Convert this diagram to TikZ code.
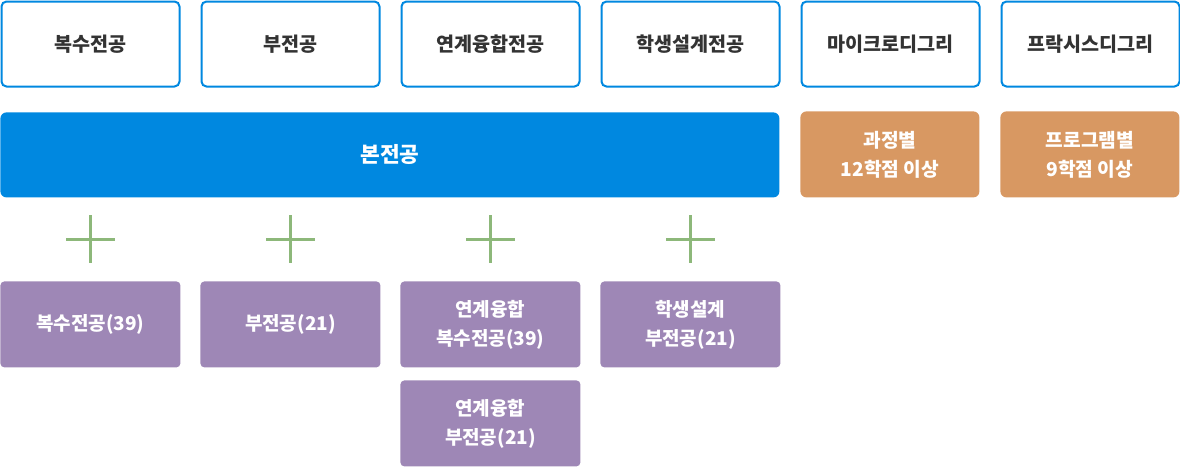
\documentclass[tikz,border=0pt]{standalone}
\usepackage{fontspec}
\setmainfont{Noto Sans CJK KR}
\usepackage{xcolor}
\usepackage{tikz}

\definecolor{barblue}{HTML}{0088E0}
\definecolor{degorange}{HTML}{D89862}
\definecolor{subpurple}{HTML}{9E87B6}
\definecolor{plusgreen}{HTML}{8DB87A}
\definecolor{textgray}{HTML}{333333}

\tikzset{
  topbox/.style={draw=barblue, line width=1pt, fill=white, rounded corners=2.5pt,
    minimum width=89pt, minimum height=42.5pt, anchor=north west,
    text=textgray, font=\fontsize{9.8}{14.5}\selectfont\bfseries},
  mainbar/.style={fill=barblue, rounded corners=3pt, minimum width=389.5pt,
    minimum height=42.5pt, anchor=north west, text=white,
    font=\fontsize{10.7}{14.5}\selectfont\bfseries},
  degbox/.style={fill=degorange, rounded corners=3pt, minimum width=89.5pt,
    minimum height=43pt, anchor=north west, align=center, text=white,
    font=\fontsize{9.6}{14.5}\selectfont\bfseries},
  subbox/.style={fill=subpurple, rounded corners=2pt, minimum width=90pt,
    minimum height=43pt, anchor=north west, align=center, text=white,
    font=\fontsize{9.5}{14.5}\selectfont\bfseries},
  plus/.style={draw=plusgreen, line width=1.5pt},
}

\begin{document}
\begin{tikzpicture}[x=0.5pt, y=-0.5pt]
  \useasboundingbox (0, 0) rectangle (1180, 467);

  % top row
  \foreach \name/\label [count=\i from 0] in
    {double/복수전공, minor/부전공, linkmajor/연계융합전공,
     selfmajor/학생설계전공, micro/마이크로디그리, praxis/프락시스디그리}
    \node[topbox] (\name) at ({0.5 + 200 * \i}, 0.5) {\label};

  % main major and degrees
  \node[mainbar] (main) at (0, 112) {본전공};
  \node[degbox] (course) at (800, 111) {과정별\\12학점 이상};
  \node[degbox] (program) at (1000, 111) {프로그램별\\9학점 이상};

  % plus signs
  \foreach \i in {0, ..., 3}
    \draw[plus] ({90 + 200 * \i}, 215) -- ++(0, 48)
                ({66 + 200 * \i}, 239) -- ++(49, 0);

  % sub programs
  \node[subbox] (sdouble) at (0, 281) {복수전공(39)};
  \node[subbox] (sminor) at (200, 281) {부전공(21)};
  \node[subbox] (slinkdouble) at (400, 281) {연계융합\\복수전공(39)};
  \node[subbox] (sselfminor) at (600, 281) {학생설계\\부전공(21)};
  \node[subbox] (slinkminor) at (400, 380) {연계융합\\부전공(21)};
\end{tikzpicture}
\end{document}
